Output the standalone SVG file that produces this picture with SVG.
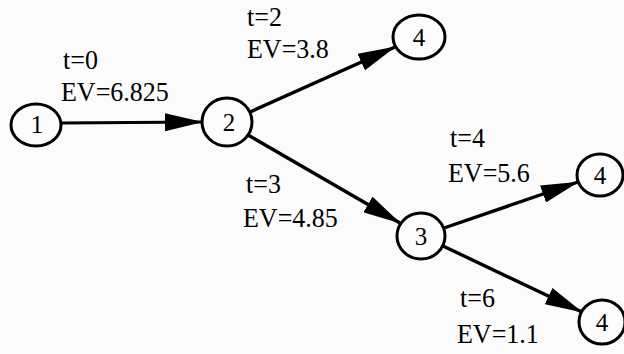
<svg xmlns="http://www.w3.org/2000/svg" width="624" height="354" viewBox="0 0 624 354">
<style>
.node ellipse{fill:#fcfcfc;stroke:#000;stroke-width:3}
.node text{font-family:"Liberation Serif","Times New Roman",serif;font-size:25px;text-anchor:middle;fill:#000}
.lbl{font-family:"Liberation Serif","Times New Roman",serif;font-size:26px;fill:#000}
.edge{stroke:#000;stroke-width:3.4;fill:none;marker-end:url(#arr)}
</style>
<defs>
<marker id="arr" markerUnits="userSpaceOnUse" viewBox="0 0 38 18" markerWidth="38" markerHeight="18" refX="37" refY="9" orient="auto">
<path d="M0,0 L38,9 L0,18 z" fill="#000"/>
</marker>
</defs>
<rect width="624" height="354" fill="#fbfbfb"/>
<g id="connectors">
<line class="edge" x1="61" y1="123" x2="202" y2="122" style="stroke-width:2.8"/>
<line class="edge" x1="250" y1="112" x2="395" y2="47"/>
<line class="edge" x1="248" y1="135" x2="400" y2="223"/>
<line class="edge" x1="444" y1="228" x2="578" y2="182"/>
<line class="edge" x1="443" y1="246" x2="582" y2="312"/>
</g>
<g id="n1" class="node"><ellipse cx="36" cy="125" rx="25" ry="21"/><text x="37" y="133">1</text></g>
<g id="n2" class="node"><ellipse cx="227" cy="122" rx="25" ry="24"/><text x="229" y="131">2</text></g>
<g id="n4a" class="node"><ellipse cx="419" cy="37" rx="26" ry="22"/><text x="419" y="46">4</text></g>
<g id="n3" class="node"><ellipse cx="421" cy="236" rx="24" ry="23"/><text x="421" y="245">3</text></g>
<g id="n4b" class="node"><ellipse cx="600" cy="175" rx="23" ry="21"/><text x="600" y="184">4</text></g>
<g id="n4c" class="node"><ellipse cx="602" cy="322" rx="23" ry="22"/><text x="602" y="331">4</text></g>
<g id="labels">
<text class="lbl" transform="translate(63 69) scale(1 1.08)">t=0</text>
<text class="lbl" transform="translate(61 101) scale(1 1.08)">EV=6.825</text>
<text class="lbl" transform="translate(247 26) scale(1 1.08)">t=2</text>
<text class="lbl" transform="translate(247 58) scale(1 1.08)">EV=3.8</text>
<text class="lbl" transform="translate(246 193) scale(1 1.08)">t=3</text>
<text class="lbl" transform="translate(243 227) scale(1 1.08)">EV=4.85</text>
<text class="lbl" transform="translate(450 147) scale(1 1.08)">t=4</text>
<text class="lbl" transform="translate(448 182) scale(1 1.08)">EV=5.6</text>
<text class="lbl" transform="translate(460 307) scale(1 1.08)">t=6</text>
<text class="lbl" transform="translate(457 343) scale(1 1.08)">EV=1.1</text>
</g>
</svg>
